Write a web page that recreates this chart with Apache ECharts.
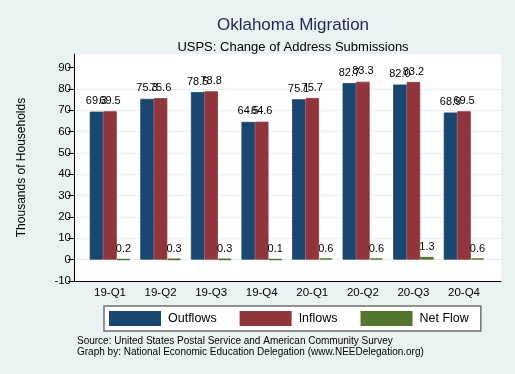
<!DOCTYPE html>
<html><head><meta charset="utf-8">
<script src="https://cdn.jsdelivr.net/npm/echarts@6/dist/echarts.min.js"></script>
<style>html,body{margin:0;padding:0;background:#eaf2f3;}#c{width:515px;height:374px;}</style>
</head><body><div id="c"></div>
<script>
const categories = ['19-Q1','19-Q2','19-Q3','19-Q4','20-Q1','20-Q2','20-Q3','20-Q4'];
const outflows = [69.3, 75.3, 78.5, 64.5, 75.1, 82.7, 82.0, 68.9];
const inflows  = [69.5, 75.6, 78.8, 64.6, 75.7, 83.3, 83.2, 69.5];
const netFlow  = [0.2, 0.3, 0.3, 0.1, 0.6, 0.6, 1.3, 0.6];
const yTicks = [-10, 0, 10, 20, 30, 40, 50, 60, 70, 80, 90];
const seriesNames = ['Outflows', 'Inflows', 'Net Flow'];
const colors = ['#1a476f', '#90353b', '#55752f'];

const FONT = 'Liberation Sans, Arial, Helvetica, sans-serif';
const YMIN = -10, YMAX = 96.3;
const chart = echarts.init(document.getElementById('c'), null, {renderer: 'canvas'});

function mkSeries(name, data, color, dist, bw) {
  return {
    name: name, type: 'bar', xAxisIndex: 1, yAxisIndex: 1, data: data,
    barWidth: 13.5, barGap: '0%',
    itemStyle: {color: color, borderColor: color, borderWidth: bw},
    label: {show: true, position: 'top', distance: dist, color: '#000', fontSize: 11, fontFamily: FONT,
      formatter: p => p.value.toFixed(1)},
    emphasis: {disabled: true}, animation: false
  };
}

chart.setOption({
  backgroundColor: '#eaf2f3',
  animation: false,
  title: [
    {text: 'Oklahoma Migration', left: 288, top: 12, textAlign: 'center',
     textStyle: {fontFamily: FONT, fontSize: 17, fontWeight: 'normal', color: '#1c2952'}},
    {text: 'USPS: Change of Address Submissions', left: 288, top: 36, textAlign: 'center',
     textStyle: {fontFamily: FONT, fontSize: 13, fontWeight: 'normal', color: '#000'}}
  ],
  grid: [
    {left: 74, top: 54, width: 427, height: 227, show: true, backgroundColor: '#fff', borderWidth: 0},
    {left: 84.7, top: 54, width: 404.6, height: 227}
  ],
  xAxis: [
    {gridIndex: 0, type: 'value', min: 0, max: 1, axisLine: {show: true, onZero: false, lineStyle: {color: '#000', width: 1}},
     axisTick: {show: false}, axisLabel: {show: false}, splitLine: {show: false}},
    {gridIndex: 1, type: 'category', data: categories, axisLine: {show: false}, axisTick: {show: false},
     axisLabel: {color: '#000', fontSize: 11.5, fontFamily: FONT, margin: 6}}
  ],
  yAxis: [
    {gridIndex: 0, type: 'value', min: YMIN, max: YMAX, interval: 10,
     axisLine: {show: true, lineStyle: {color: '#000', width: 1}},
     axisTick: {show: true, length: 6, lineStyle: {color: '#000'}, customValues: yTicks},
     axisLabel: {color: '#000', fontSize: 11.5, fontFamily: FONT, margin: 3, customValues: yTicks},
     splitLine: {show: true, showMaxLine: false, showMinLine: false, lineStyle: {color: '#e6eef0', width: 1}}},
    {gridIndex: 1, type: 'value', min: YMIN, max: YMAX, show: false, splitLine: {show: false}}
  ],
  legend: {
    left: 104, top: 306, data: seriesNames, itemWidth: 50, itemHeight: 13, itemGap: 23,
    padding: [5, 12, 5, 5], backgroundColor: '#fff', borderColor: '#707070', borderWidth: 1.5,
    icon: 'rect', selectedMode: false,
    textStyle: {color: '#000', fontSize: 12.5, fontFamily: FONT, padding: [0, 0, 0, 3]}
  },
  graphic: [
    {type: 'text', x: 22, y: 167.5, rotation: Math.PI / 2,
     style: {text: 'Thousands of Households', fill: '#000', fontSize: 12, fontFamily: FONT, align: 'center', verticalAlign: 'middle'}},
    {type: 'text', x: 77, y: 341,
     style: {text: 'Source: United States Postal Service and American Community Survey', fill: '#000', fontSize: 10, fontFamily: FONT, verticalAlign: 'middle'}},
    {type: 'text', x: 77, y: 352.5,
     style: {text: 'Graph by: National Economic Education Delegation (www.NEEDelegation.org)', fill: '#000', fontSize: 10, fontFamily: FONT, verticalAlign: 'middle'}}
  ],
  color: colors,
  series: [
    mkSeries(seriesNames[0], outflows, colors[0], 5, 0.8),
    mkSeries(seriesNames[1], inflows, colors[1], 5, 0.8),
    mkSeries(seriesNames[2], netFlow, colors[2], 4, 1.6)
  ]
});
</script></body></html>
